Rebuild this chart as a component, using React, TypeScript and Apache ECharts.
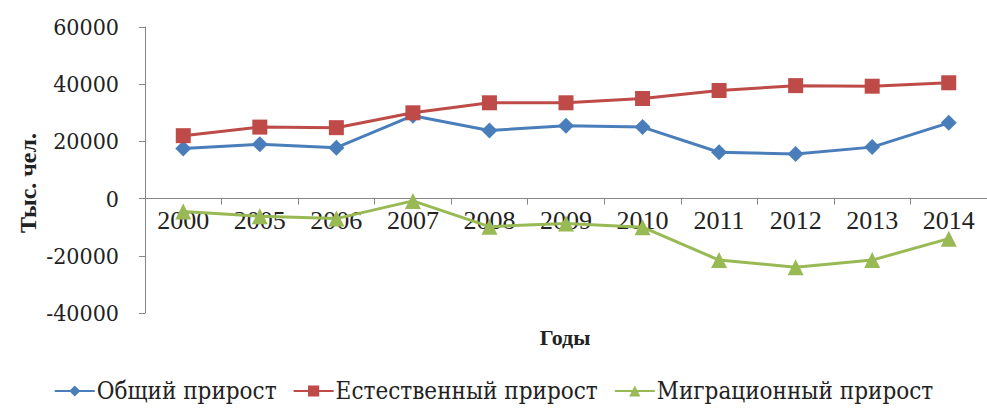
import React, { useEffect, useRef } from "react";
import * as echarts from "echarts";

const years = ["2000", "2005", "2006", "2007", "2008", "2009", "2010", "2011", "2012", "2013", "2014"];
const totalGrowth = [17500, 19000, 17800, 29000, 23800, 25500, 25000, 16200, 15600, 18000, 26500];
const naturalGrowth = [22000, 25000, 24800, 30000, 33500, 33500, 35000, 37800, 39500, 39300, 40500];
const migrationGrowth = [-4500, -6200, -7000, -800, -9800, -8700, -10000, -21500, -24000, -21500, -14000];
const seriesNames = ["Общий прирост", "Естественный прирост", "Миграционный прирост"];
const yTicks = { min: -40000, max: 60000, interval: 20000 };

const FONT = "Liberation Serif";
const FONT_ALT = "DejaVu Serif Condensed, DejaVu Serif";

export default function App() {
  const ref = useRef<HTMLDivElement>(null);
  useEffect(() => {
    if (!ref.current) return;
    const chart = echarts.init(ref.current, undefined, { renderer: "svg" });
    const colors = ["#4A7EBB", "#BE4B48", "#98B954"];
    const symbols = ["diamond", "rect", "triangle"];
    const data = [totalGrowth, naturalGrowth, migrationGrowth];
    const top = 27;
    const bottom = 99;
    const plotH = 412 - top - bottom;
    const zeroFromBottom = (0 - yTicks.min) / (yTicks.max - yTicks.min) * plotH;
    chart.setOption({
      animation: false,
      backgroundColor: "#ffffff",
      textStyle: { fontFamily: FONT },
      grid: { left: 145, right: -7, top, bottom, containLabel: false },
      xAxis: {
        type: "category",
        data: years,
        boundaryGap: true,
        position: "bottom",
        offset: -zeroFromBottom,
        axisLine: { onZero: false, lineStyle: { color: "#868686", width: 1 } },
        axisTick: { show: true, inside: false, length: 6, lineStyle: { color: "#868686" } },
        axisLabel: { color: "#222", fontFamily: FONT, fontSize: 26, margin: 9 },
        splitLine: { show: false },
      },
      yAxis: {
        type: "value",
        min: yTicks.min,
        max: yTicks.max,
        interval: yTicks.interval,
        axisLine: { show: true, lineStyle: { color: "#868686", width: 1 } },
        axisTick: { show: true, inside: false, length: 6, lineStyle: { color: "#868686" } },
        axisLabel: {
          color: "#222",
          fontFamily: FONT_ALT,
          fontSize: 23,
          margin: 26,
          formatter: (v: number) => String(v),
        },
        splitLine: { show: false },
      },
      legend: {
        bottom: 4,
        left: "center",
        itemWidth: 40,
        itemHeight: 14,
        itemGap: 16,
        textStyle: {
          color: "#222",
          fontFamily: FONT_ALT,
          fontSize: 24,
          padding: [0, 0, 0, -3],
        },
        data: seriesNames,
      },
      graphic: [
        {
          type: "text",
          x: 28,
          y: 183,
          rotation: Math.PI / 2,
          style: {
            text: "Тыс. чел.",
            font: `bold 24px ${FONT}`,
            fill: "#222",
            align: "center",
            verticalAlign: "middle",
          },
        },
        {
          type: "text",
          x: 565,
          y: 337,
          style: {
            text: "Годы",
            font: `bold 22px ${FONT}`,
            fill: "#222",
            align: "center",
            verticalAlign: "middle",
          },
        },
      ],
      series: seriesNames.map((name, i) => ({
        name,
        type: "line",
        data: data[i],
        symbol: symbols[i],
        symbolSize: i === 1 ? 15 : 16,
        lineStyle: { color: colors[i], width: 3 },
        itemStyle: { color: colors[i] },
        z: i === 2 ? 1 : 2,
      })),
    });
    return () => chart.dispose();
  }, []);
  return <div ref={ref} style={{ position: "fixed", left: 0, top: 0, width: 987, height: 412 }} />;
}
